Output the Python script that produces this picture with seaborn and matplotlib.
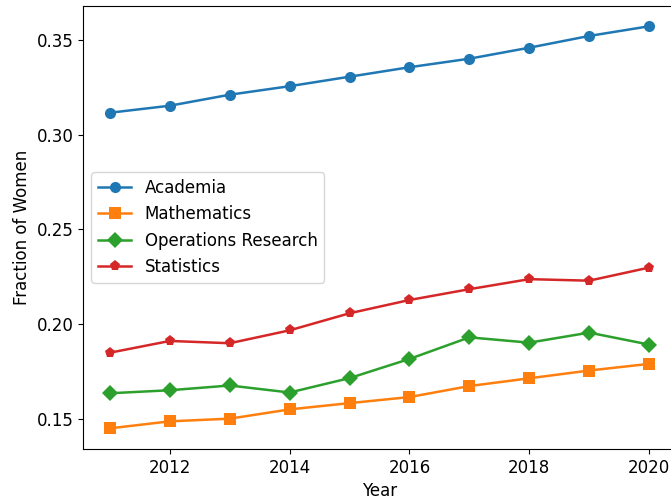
import matplotlib
matplotlib.use("Agg")
import matplotlib.pyplot as plt
import seaborn as sns
import pandas as pd

years = [2011, 2012, 2013, 2014, 2015, 2016, 2017, 2018, 2019, 2020]
academia = [0.3116, 0.3153, 0.3211, 0.3256, 0.3306, 0.3356, 0.3401, 0.3459, 0.3521, 0.3572]
mathematics = [0.1451, 0.1488, 0.1502, 0.1551, 0.1584, 0.1616, 0.1674, 0.1715, 0.1756, 0.1791]
operations_research = [0.1636, 0.1652, 0.1677, 0.1640, 0.1716, 0.1817, 0.1931, 0.1903, 0.1956, 0.1893]
statistics = [0.1850, 0.1912, 0.1900, 0.1968, 0.2058, 0.2128, 0.2185, 0.2238, 0.2230, 0.2299]

series_names = ["Academia", "Mathematics", "Operations Research", "Statistics"]
series_values = [academia, mathematics, operations_research, statistics]

rows = []
for name, vals in zip(series_names, series_values):
    for y, v in zip(years, vals):
        rows.append({"Year": y, "Fraction of Women": v, "Field": name})
df = pd.DataFrame(rows)

plt.rcParams["font.size"] = 12

fig = plt.figure(figsize=(6.71, 4.99), dpi=100)
ax = fig.add_axes([83 / 671, 50 / 499, (676 - 83) / 671, (449 - 6) / 499])

palette = {"Academia": "#1f77b4", "Mathematics": "#ff7f0e",
           "Operations Research": "#2ca02c", "Statistics": "#d62728"}
markers = {"Academia": "o", "Mathematics": "s", "Operations Research": "D", "Statistics": "p"}

sns.lineplot(data=df, x="Year", y="Fraction of Women", hue="Field", style="Field",
             palette=palette, markers=markers, dashes=False, markersize=8,
             markeredgewidth=0, linewidth=1.8, ax=ax)

ax.set_xticks([2012, 2014, 2016, 2018, 2020])
ax.set_yticks([0.15, 0.20, 0.25, 0.30, 0.35])
ax.set_ylim(0.1342, 0.3679)
ax.set_xlim(2010.55, 2020.45)
ax.legend(loc="center left", title=None)

fig.savefig("out.png", dpi=100)
